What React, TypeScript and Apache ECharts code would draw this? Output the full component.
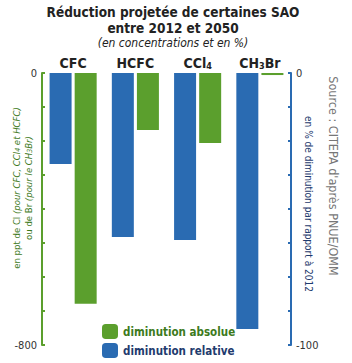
import React, { useEffect, useRef } from "react";
import * as echarts from "echarts";

const categories = ["CFC", "HCFC", "CCl4", "CH3Br"];
const relativeDecrease = [-33.5, -60.3, -61.4, -94.1]; // % (right axis)
const absoluteDecrease = [-679, -168, -206, -6]; // ppt (left axis)
const leftTicks = [0, -800];
const rightTicks = [0, -100];

const catRich: Record<string, string> = {
  CFC: "CFC",
  HCFC: "HCFC",
  CCl4: "CCl{sub|4}",
  CH3Br: "CH{sub|3}Br",
};

const FONT = "'DejaVu Sans Condensed', 'DejaVu Sans', sans-serif";
const GREEN = "#5b9f2d";
const BLUE = "#2a6bb2";
const DGREEN = "#3d7a1c";
const DBLUE = "#1f3b6e";

export default function App() {
  const ref = useRef<HTMLDivElement>(null);
  useEffect(() => {
    document.body.style.margin = "0";
    if (!ref.current) return;
    const chart = echarts.init(ref.current, null, { renderer: "svg" });
    chart.setOption({
      animation: false,
      textStyle: { fontFamily: FONT },
      grid: { left: 42, right: 61, top: 73, bottom: 18 },
      legend: {
        orient: "vertical",
        left: 97,
        top: 319,
        itemWidth: 16,
        itemHeight: 15,
        itemGap: 4,
        selectedMode: false,
        textStyle: { fontFamily: FONT, fontSize: 11.5, fontWeight: "bold" },
        data: [
          { name: "diminution absolue", textStyle: { color: DGREEN } },
          { name: "diminution relative", textStyle: { color: DBLUE } },
        ],
      },
      xAxis: {
        type: "category",
        position: "top",
        data: categories,
        axisLine: { show: false },
        axisTick: { show: false },
        axisLabel: {
          interval: 0,
          margin: 3,
          fontSize: 14,
          fontWeight: "bold",
          color: "#222",
          fontFamily: FONT,
          formatter: (v: string) => catRich[v] ?? v,
          rich: {
            sub: { fontSize: 9, fontWeight: "bold", color: "#222", fontFamily: FONT, verticalAlign: "bottom", padding: [6, 0, 0, 0] },
          },
        },
      },
      yAxis: [
        {
          type: "value",
          min: -800,
          max: 0,
          interval: 100,
          position: "left",
          splitLine: { show: false },
          axisLine: { show: true, lineStyle: { color: GREEN, width: 2 } },
          axisTick: { show: true, inside: true, length: 3, lineStyle: { color: GREEN, width: 2 } },
          axisLabel: {
            color: "#333",
            fontSize: 11,
            margin: 5,
            formatter: (v: number) => (leftTicks.includes(v) ? String(v) : ""),
          },
        },
        {
          type: "value",
          min: -100,
          max: 0,
          interval: 12.5,
          position: "right",
          splitLine: { show: false },
          axisLine: { show: true, lineStyle: { color: BLUE, width: 2 } },
          axisTick: { show: true, inside: true, length: 3, lineStyle: { color: BLUE, width: 2 } },
          axisLabel: {
            color: "#333",
            fontSize: 11,
            margin: 5,
            formatter: (v: number) => (rightTicks.includes(v) ? String(v) : ""),
          },
        },
      ],
      series: [
        {
          name: "diminution relative",
          type: "bar",
          yAxisIndex: 1,
          data: relativeDecrease,
          barWidth: 22,
          barGap: "14%",
          itemStyle: { color: BLUE },
        },
        {
          name: "diminution absolue",
          type: "bar",
          yAxisIndex: 0,
          data: absoluteDecrease,
          barWidth: 22,
          barGap: "14%",
          itemStyle: { color: GREEN },
        },
      ],
      graphic: [
        {
          type: "text",
          x: 173,
          y: 12,
          style: {
            text: "Réduction projetée de certaines SAO",
            font: `bold 13.5px ${FONT}`,
            fill: "#222",
            align: "center",
            verticalAlign: "middle",
          },
        },
        {
          type: "text",
          x: 173,
          y: 28,
          style: {
            text: "entre 2012 et 2050",
            font: `bold 13.5px ${FONT}`,
            fill: "#222",
            align: "center",
            verticalAlign: "middle",
          },
        },
        {
          type: "text",
          x: 173,
          y: 43,
          style: {
            text: "(en concentrations et en %)",
            font: `italic 12px ${FONT}`,
            fill: "#222",
            align: "center",
            verticalAlign: "middle",
          },
        },
        {
          type: "text",
          x: 16,
          y: 188,
          rotation: Math.PI / 2,
          style: {
            text: "{n|en ppt de Cl }{i|(pour CFC, CCl}{is|4}{i| et HCFC)}",
            align: "center",
            verticalAlign: "middle",
            rich: {
              n: { fontFamily: FONT, fontSize: 9.5, fill: DGREEN },
              i: { fontFamily: FONT, fontSize: 9.5, fontStyle: "italic", fill: DGREEN },
              is: { fontFamily: FONT, fontSize: 7, fontStyle: "italic", fill: DGREEN, verticalAlign: "bottom" },
            },
          },
        },
        {
          type: "text",
          x: 28,
          y: 188,
          rotation: Math.PI / 2,
          style: {
            text: "{n|ou de Br }{i|(pour le CH}{is|3}{i|Br)}",
            align: "center",
            verticalAlign: "middle",
            rich: {
              n: { fontFamily: FONT, fontSize: 9.5, fill: DGREEN },
              i: { fontFamily: FONT, fontSize: 9.5, fontStyle: "italic", fill: DGREEN },
              is: { fontFamily: FONT, fontSize: 7, fontStyle: "italic", fill: DGREEN, verticalAlign: "bottom" },
            },
          },
        },
        {
          type: "text",
          x: 308,
          y: 204,
          rotation: -Math.PI / 2,
          style: {
            text: "en % de diminution par rapport à 2012",
            font: `10px ${FONT}`,
            fill: DBLUE,
            align: "center",
            verticalAlign: "middle",
          },
        },
        {
          type: "text",
          x: 333,
          y: 176,
          rotation: -Math.PI / 2,
          style: {
            text: "Source : CITEPA d'après PNUE/OMM",
            font: `12.5px ${FONT}`,
            fill: "#777",
            align: "center",
            verticalAlign: "middle",
          },
        },
      ],
    });
    return () => chart.dispose();
  }, []);
  return <div ref={ref} style={{ width: 352, height: 363 }} />;
}
